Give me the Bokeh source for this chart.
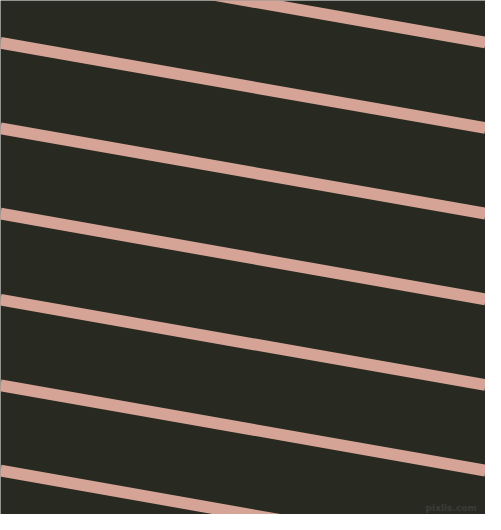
from bokeh.plotting import figure
from bokeh.embed import file_html
from bokeh.resources import INLINE
from bokeh.core.properties import value

# Stripe centre lines, read in reference pixel coordinates (y down)
stripe_left_x = [0, 0, 0, 0, 0, 0, 0]
stripe_left_y = [-44.5, 43.7, 131.8, 219.8, 308.5, 396.7, 484.8]
stripe_right_x = [501, 501, 501, 501, 501, 501, 501]
stripe_right_y = [43.3, 131.5, 219.8, 308.2, 396.5, 484.8, 573.0]

watermark = ["pixlis.com"]
watermark_x = [492]
watermark_y = [523]

BG = "#282a21"
STRIPE = "#d5a496"

p = figure(width=485, height=514, output_backend="svg", toolbar_location=None,
           x_range=(0, 501), y_range=(530, 0), min_border=0)
p.axis.visible = False
p.grid.visible = False
p.outline_line_color = None
p.background_fill_color = BG
p.border_fill_color = BG

p.segment(x0=stripe_left_x, y0=stripe_left_y, x1=stripe_right_x, y1=stripe_right_y,
          line_color=STRIPE, line_width=11.8, line_cap="butt")

p.text(x=watermark_x, y=watermark_y, text=watermark, text_font=value("DejaVu Sans"),
       text_font_size="9px", text_font_style="bold", text_color="#3b3c36",
       text_baseline="alphabetic", text_align="right")

open("out.html", "w").write(file_html(p, INLINE))
